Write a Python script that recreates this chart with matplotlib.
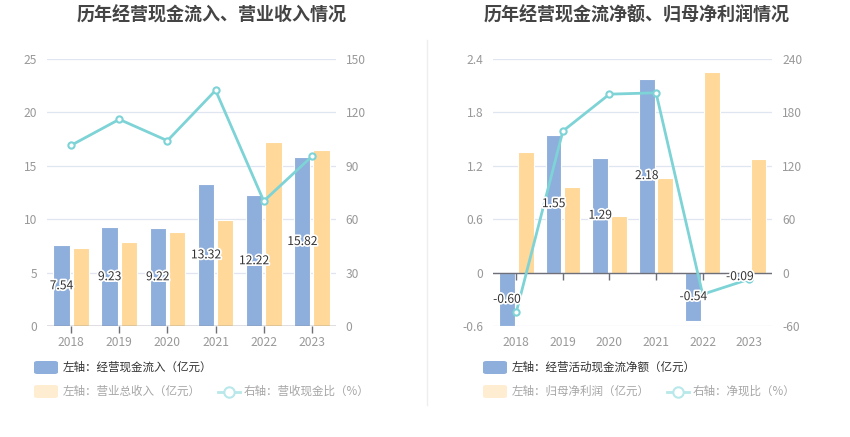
import matplotlib
matplotlib.use("Agg")
import matplotlib.pyplot as plt
import matplotlib.patheffects as pe
from matplotlib.patches import FancyBboxPatch
from matplotlib.lines import Line2D
import numpy as np

plt.rcParams['font.family'] = ['Noto Sans CJK SC', 'DejaVu Sans']

years = ['2018', '2019', '2020', '2021', '2022', '2023']

# Left chart
cash_inflow = [7.54, 9.23, 9.22, 13.32, 12.22, 15.82]
revenue = [7.35, 7.90, 8.77, 9.95, 17.25, 16.45]
cash_ratio = [101.5, 116.1, 104.1, 132.4, 70.2, 95.3]

# Right chart
net_cash = [-0.60, 1.55, 1.29, 2.18, -0.54, -0.09]
net_profit = [1.36, 0.96, 0.64, 1.06, 2.25, 1.28]
net_ratio = [-44.3, 159.0, 200.5, 202.0, -24.4, -7.4]

titles = ['历年经营现金流入、营业收入情况', '历年经营现金流净额、归母净利润情况']
legend_left = ['左轴：经营现金流入（亿元）', '左轴：营业总收入（亿元）', '右轴：营收现金比（%）']
legend_right = ['左轴：经营活动现金流净额（亿元）', '左轴：归母净利润（亿元）', '右轴：净现比（%）']

BLUE = '#8EAEDB'
ORANGE = '#FFD89A'
LINE = '#7DD3D6'
GRID = '#E0E6F1'
AXIS = '#6E7079'
TICK = '#999999'

W, H = 850, 437
fig = plt.figure(figsize=(W / 100, H / 100), dpi=100)


def fx(px):
    return px / W


def fy(py):
    return 1 - py / H


def draw(rect, bars1, bars2, ratio, ylim, yticks, ylim2, yticks2, title, tcx, legs, lx):
    ax = fig.add_axes(rect)
    x = np.arange(len(years))
    bw = 0.34
    off = 0.2
    ax.bar(x - off, bars1, bw, color=BLUE, edgecolor='white', linewidth=0.8, zorder=3)
    ax.bar(x + off, bars2, bw, color=ORANGE, edgecolor='white', linewidth=0.8, zorder=3)
    ax.set_xlim(-0.5, len(years) - 0.5)
    ax.set_ylim(*ylim)
    ax.set_yticks(yticks)
    ax.set_yticklabels(['{:g}'.format(round(v, 2)) for v in yticks])
    ax.set_xticks(x)
    ax.set_xticklabels(years)
    for s in ax.spines.values():
        s.set_visible(False)
    ax.grid(axis='y', color=GRID, linewidth=0.9, zorder=0)
    ax.set_axisbelow(True)
    ax.tick_params(axis='y', length=0, pad=7, labelsize=8.7, labelcolor=TICK)
    ax.tick_params(axis='x', length=0, pad=7, labelsize=8.7, labelcolor=TICK)
    ax.axhline(0, color=AXIS, linewidth=1, zorder=4)
    ax.plot(x, np.zeros(len(x)), linestyle='none', marker=3, markersize=5,
            color=AXIS, markeredgewidth=1, zorder=4, clip_on=False)
    ax2 = ax.twinx()
    ax2.set_ylim(*ylim2)
    ax2.set_yticks(yticks2)
    ax2.set_yticklabels(['{:g}'.format(v) for v in yticks2])
    for s in ax2.spines.values():
        s.set_visible(False)
    ax2.tick_params(axis='y', length=0, pad=7, labelsize=8.7, labelcolor=TICK)
    ax2.plot(x, ratio, color=LINE, linewidth=2, marker='o', markersize=4.5,
             markerfacecolor='white', markeredgecolor=LINE, markeredgewidth=1.5, zorder=5)
    for xi, v in zip(x, bars1):
        ax2.text(xi - off, v / 2, '{:.2f}'.format(v), ha='center', va='center',
                 fontsize=8.7, color='#333333', zorder=6, transform=ax.transData,
                 path_effects=[pe.withStroke(linewidth=2.5, foreground='white')])

    fig.text(fx(tcx), fy(15), title, ha='center', va='center', fontsize=13,
             fontweight='bold', color='#444444')

    # legend
    fig.patches.append(FancyBboxPatch((fx(lx), fy(374)), fx(24), 13 / H,
                                      boxstyle='round,pad=0,rounding_size=0.004',
                                      transform=fig.transFigure, facecolor=BLUE,
                                      edgecolor='none'))
    fig.text(fx(lx + 29), fy(367.5), legs[0], ha='left', va='center', fontsize=8.3,
             color='#333333')
    fig.patches.append(FancyBboxPatch((fx(lx), fy(398)), fx(24), 13 / H,
                                      boxstyle='round,pad=0,rounding_size=0.004',
                                      transform=fig.transFigure, facecolor='#FFEDD2',
                                      edgecolor='none'))
    t2 = fig.text(fx(lx + 29), fy(391.5), legs[1], ha='left', va='center', fontsize=8.3,
                  color='#A6A6A6')
    fig.canvas.draw()
    bb = t2.get_window_extent()
    x_end = bb.x1  # pixels
    mx0 = x_end + 17
    fig.add_artist(Line2D([fx(mx0), fx(mx0 + 22)], [fy(391.5), fy(391.5)],
                          transform=fig.transFigure, color='#B8E8EA', linewidth=2))
    fig.add_artist(Line2D([fx(mx0 + 11)], [fy(391.5)], transform=fig.transFigure,
                          marker='o', markersize=7.5, markerfacecolor='white',
                          markeredgecolor='#B8E8EA', markeredgewidth=1.5, linestyle='none'))
    fig.text(fx(mx0 + 26), fy(391.5), legs[2], ha='left', va='center', fontsize=8.3,
             color='#A6A6A6')


draw([fx(47), fy(326), fx(336 - 47), (326 - 59) / H], cash_inflow, revenue, cash_ratio,
     (0, 25), [0, 5, 10, 15, 20, 25], (0, 150), [0, 30, 60, 90, 120, 150],
     titles[0], 212, legend_left, 34)

draw([fx(493), fy(326), fx(772.5 - 493), (326 - 59) / H], net_cash, net_profit, net_ratio,
     (-0.6, 2.4), [-0.6, 0, 0.6, 1.2, 1.8, 2.4], (-60, 240), [-60, 0, 60, 120, 180, 240],
     titles[1], 637, legend_right, 483)

fig.add_artist(Line2D([fx(427), fx(427)], [fy(40), fy(405)], transform=fig.transFigure,
                      color='#EEEEEE', linewidth=1))

fig.savefig('out.png', dpi=100, facecolor='white')
